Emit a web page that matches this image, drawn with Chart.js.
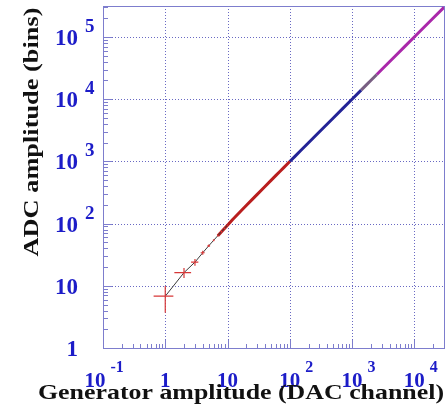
<!DOCTYPE html>
<html>
<head>
<meta charset="utf-8">
<script src="https://cdn.jsdelivr.net/npm/chart.js@4/dist/chart.umd.min.js"></script>
<style>
  html, body { margin: 0; padding: 0; background: #fff; }
</style>
</head>
<body>
<canvas id="linChart" width="448" height="416"></canvas>
<script>
// low-amplitude points, drawn with error crosses
const lowX = [1, 2, 3, 4, 5, 6, 7, 8, 9, 10];
const lowY = [6.8, 16.3, 24, 34, 44, 54, 64, 74, 84, 94];
const lowXErr = [0.35, 0.6, 0.4, 0.3, 0.25, 0.2, 0.2, 0.2, 0.2, 0.2];
const lowYErr = [3.1, 3, 3, 2.5, 2, 2, 2, 2, 2, 2];

// dense scan segments
const redX = [7, 8, 10, 12, 15, 20, 25, 30, 40, 50, 60, 70, 80, 100];
const redY = [64, 74, 94, 115, 145, 195, 245, 295, 395, 495, 595, 695, 795, 995];
const blueX = [100, 120, 150, 200, 300, 400, 500, 700, 1000, 1400];
const blueY = [995, 1195, 1495, 1995, 2995, 3995, 4995, 6995, 9990, 13990];
const greyX = [1400, 1700, 2000, 2500];
const greyY = [13990, 16990, 19990, 24990];
const magX = [2500, 3000, 4000, 5000, 7000, 10000, 15000, 20000, 30000];
const magY = [24990, 29990, 39990, 49990, 69990, 99990, 149990, 199990, 299990];

// axis decades and ranges
const xDecades = [-1, 0, 1, 2, 3, 4];
const yDecades = [0, 1, 2, 3, 4, 5];
const xRange = [0.1, 30000];
const yRange = [1, 315000];

const xTitle = 'Generator amplitude (DAC channel)';
const yTitle = 'ADC amplitude (bins)';

const pts = (xs, ys) => xs.map((x, i) => ({ x: x, y: ys[i] }));

const serif = '"Liberation Serif", serif';
const labelBlue = 'rgb(28,28,200)';
const frameColor = 'rgb(125,125,205)';
const gridColor = 'rgb(105,105,195)';

const decorate = {
    id: 'decorate',
    beforeDatasetsDraw(chart) {
        const { ctx, chartArea: a, scales } = chart;
        const xs = scales.x, ys = scales.y;
        ctx.save();
        // dotted grid
        ctx.strokeStyle = gridColor;
        ctx.lineWidth = 1;
        ctx.setLineDash([1, 2]);
        xDecades.forEach(e => {
            const px = Math.round(xs.getPixelForValue(Math.pow(10, e))) + 0.5;
            if (px <= a.left + 1 || px >= a.right - 1) return;
            ctx.beginPath(); ctx.moveTo(px, a.top); ctx.lineTo(px, a.bottom); ctx.stroke();
        });
        yDecades.forEach(e => {
            const py = Math.round(ys.getPixelForValue(Math.pow(10, e))) + 0.5;
            if (py <= a.top + 1 || py >= a.bottom - 1) return;
            ctx.beginPath(); ctx.moveTo(a.left, py); ctx.lineTo(a.right, py); ctx.stroke();
        });
        ctx.setLineDash([]);
        // frame
        ctx.strokeStyle = frameColor;
        ctx.strokeRect(Math.round(a.left) + 0.5, Math.round(a.top) + 0.5,
            Math.round(a.right - a.left), Math.round(a.bottom - a.top));
        // tick marks, major and minor
        ctx.beginPath();
        for (let e = -1; e <= 4; e++) {
            for (let m = 1; m <= 9; m++) {
                const v = m * Math.pow(10, e);
                if (v < xRange[0] || v > xRange[1]) continue;
                const px = Math.round(xs.getPixelForValue(v)) + 0.5;
                const len = m === 1 ? 8 : 4;
                ctx.moveTo(px, a.bottom); ctx.lineTo(px, a.bottom - len);
            }
        }
        for (let e = 0; e <= 5; e++) {
            for (let m = 1; m <= 9; m++) {
                const v = m * Math.pow(10, e);
                if (v < yRange[0] || v > yRange[1]) continue;
                const py = Math.round(ys.getPixelForValue(v)) + 0.5;
                const len = m === 1 ? 9 : 5;
                ctx.moveTo(a.left, py); ctx.lineTo(a.left + len, py);
            }
        }
        ctx.stroke();
        ctx.restore();
    },
    afterDatasetsDraw(chart) {
        const { ctx, scales } = chart;
        const xs = scales.x, ys = scales.y;
        ctx.save();
        // error crosses on the low points
        ctx.strokeStyle = 'rgb(215,55,55)';
        ctx.lineWidth = 1.2;
        lowX.forEach((x, i) => {
            const y = lowY[i];
            const px = xs.getPixelForValue(x), py = ys.getPixelForValue(y);
            ctx.beginPath();
            ctx.moveTo(xs.getPixelForValue(x - lowXErr[i]), py);
            ctx.lineTo(xs.getPixelForValue(x + lowXErr[i]), py);
            ctx.moveTo(px, ys.getPixelForValue(y - lowYErr[i]));
            ctx.lineTo(px, ys.getPixelForValue(y + lowYErr[i]));
            ctx.stroke();
        });
        ctx.restore();
    },
    afterDraw(chart) {
        const { ctx, scales } = chart;
        const xs = scales.x, ys = scales.y;
        ctx.save();
        ctx.fillStyle = labelBlue;
        ctx.textBaseline = 'alphabetic';
        // x labels
        xDecades.forEach(e => {
            const px = xs.getPixelForValue(Math.pow(10, e));
            ctx.font = 'bold 21px ' + serif;
            if (e === 0 || e === 1) {
                ctx.textAlign = 'center';
                ctx.fillText(e === 0 ? '1' : '10', px, 387);
                return;
            }
            const shift = e < 0 ? -8 : 0;
            ctx.textAlign = 'center';
            ctx.fillText('10', px + shift, 387);
            const w = ctx.measureText('10').width;
            ctx.font = 'bold 16px ' + serif;
            ctx.textAlign = 'left';
            ctx.fillText(String(e), px + shift + w / 2 + 5, 372);
        });
        // y labels
        yDecades.forEach(e => {
            const py = ys.getPixelForValue(Math.pow(10, e));
            ctx.font = 'bold 23px ' + serif;
            ctx.textAlign = 'right';
            if (e === 0 || e === 1) {
                ctx.fillText(e === 0 ? '1' : '10', 78, py + 8);
                return;
            }
            ctx.fillText('10', 78, py + 8);
            ctx.font = 'bold 19px ' + serif;
            ctx.textAlign = 'left';
            ctx.fillText(String(e), 85, py - 5);
        });
        // axis titles, stretched to their span
        ctx.fillStyle = '#111';
        ctx.font = 'bold 22px ' + serif;
        ctx.textAlign = 'center';
        let w = ctx.measureText(xTitle).width;
        ctx.save();
        ctx.translate(241, 399);
        ctx.scale(406 / w, 1);
        ctx.fillText(xTitle, 0, 0);
        ctx.restore();
        w = ctx.measureText(yTitle).width;
        ctx.save();
        ctx.translate(38, 132);
        ctx.rotate(-Math.PI / 2);
        ctx.scale(249 / w, 1);
        ctx.fillText(yTitle, 0, 0);
        ctx.restore();
        ctx.restore();
    }
};

new Chart(document.getElementById('linChart').getContext('2d'), {
    type: 'scatter',
    data: {
        datasets: [
            { data: pts(lowX, lowY), showLine: true, borderColor: 'rgb(60,60,60)', borderWidth: 1, pointRadius: 0 },
            { data: pts(redX, redY), showLine: true, borderColor: 'rgb(185,30,30)', borderWidth: 3, pointRadius: 0 },
            { data: pts(blueX, blueY), showLine: true, borderColor: 'rgb(35,35,150)', borderWidth: 3, pointRadius: 0 },
            { data: pts(greyX, greyY), showLine: true, borderColor: 'rgb(120,95,130)', borderWidth: 3, pointRadius: 0 },
            { data: pts(magX, magY), showLine: true, borderColor: 'rgb(170,40,170)', borderWidth: 3, pointRadius: 0 }
        ]
    },
    options: {
        responsive: false,
        animation: false,
        layout: { padding: { left: 103, right: 4, top: 6, bottom: 68 } },
        plugins: {
            legend: { display: false },
            tooltip: { enabled: false }
        },
        scales: {
            x: { type: 'logarithmic', display: false, min: xRange[0], max: xRange[1] },
            y: { type: 'logarithmic', display: false, min: yRange[0], max: yRange[1] }
        }
    },
    plugins: [decorate]
});
</script>
</body>
</html>
